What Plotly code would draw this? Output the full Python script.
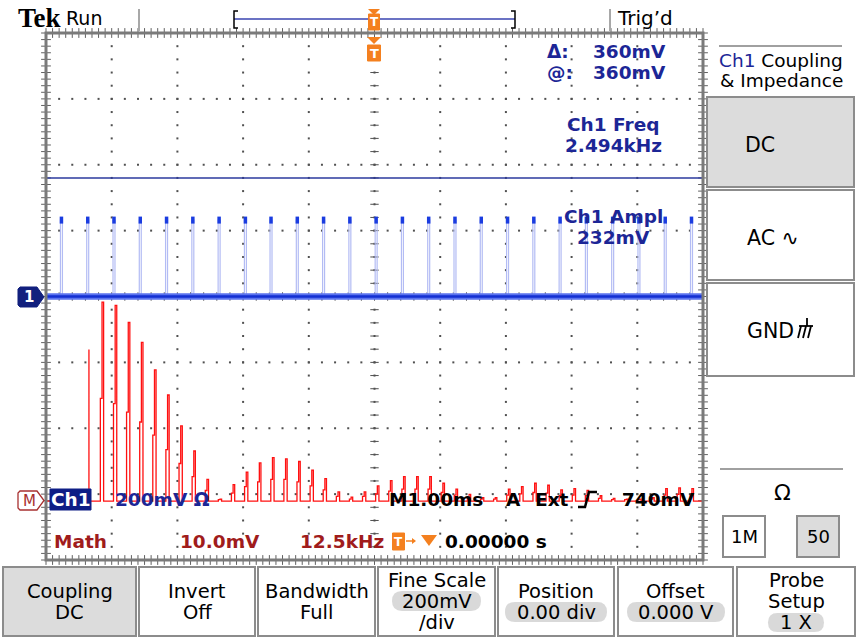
import plotly.graph_objects as go

# ---------------- data ----------------
# Ch1: pulse train, 200 mV/div, 1.00 ms/div, trigger at centre
pulse_times_ms = [-4.78, -4.38, -3.98, -3.58, -3.18, -2.78, -2.38, -1.98, -1.59, -1.19,
                  -0.79, -0.39, 0.01, 0.41, 0.81, 1.21, 1.61, 2.01, 2.41, 2.81,
                  3.21, 3.61, 4.01, 4.41, 4.81]
pulse_ampl_mv = 232
pulse_width_ms = 0.03
cursor_mv = 360

# Math (FFT): 10.0 mV/div, 12.5 kHz/div
fft_freq_khz = [8.17, 10.66, 13.16, 15.65, 18.15, 20.64, 23.13, 25.63, 28.12, 30.62,
                33.11, 35.60, 38.10, 40.59, 43.09, 45.58, 48.07, 50.57, 53.06, 55.56,
                58.05, 60.54, 63.04, 65.53, 68.03, 70.52, 73.01, 75.51, 78.00, 80.50,
                82.99, 85.48, 87.98, 90.47, 92.97, 95.46, 97.95, 100.45, 102.94, 105.44,
                107.93, 110.42, 112.92, 115.41, 117.91, 120.40, 122.89]
fft_peak_mv = [23.0, 30.2, 29.7, 27.1, 24.1, 19.9, 16.1, 11.4, 7.6, 3.3,
               0.3, 2.5, 4.4, 5.8, 6.6, 6.4, 6.0, 4.7, 3.4, 1.4,
               0.6, 1.4, 2.3, 3.1, 3.7, 3.7, 3.7, 2.7, 1.8, 1.0,
               0.5, 0.5, 1.8, 2.2, 2.7, 2.4, 1.7, 1.9, 1.6, 0.8,
               0.4, 0.3, 0.3, 0.5, 1.9, 2.0, 1.9]
fft_step_mv = [23.0, 15.6, 14.8, 13.5, 12.0, 10.0, 7.8, 5.7, 3.7, 1.6,
               0.2, 1.2, 2.2, 2.9, 3.3, 3.3, 2.9, 2.3, 1.7, 0.7,
               0.3, 0.7, 1.1, 1.5, 1.8, 1.8, 1.8, 1.3, 0.9, 0.5,
               0.3, 0.3, 0.9, 1.1, 1.3, 1.2, 0.8, 0.9, 0.8, 0.4,
               0.2, 0.2, 0.2, 0.3, 0.9, 1.0, 0.9]

t_range = [-5, 5]          # ms
v_range = [-800, 800]      # mV (Ch1)
f_range = [0, 125]         # kHz
m_range = [-8.95, 71.05]   # mV (Math)

# ---------------- page geometry ----------------
W, H = 865, 637
GL, GR, GT, GB = 46, 703, 33, 560


def px(x):
    return (x - GL) / (GR - GL)


def py(y):
    return (GB - y) / (GB - GT)


NAVY = '#1c2696'
DARKRED = '#a01c1c'
ORANGE = '#f4801f'
GRAY = '#8c8c8c'
FONT = 'DejaVu Sans, Verdana, sans-serif'

shapes = []
annotations = []


def text(x, y, s, size=18.5, color='black', anchor='left', bold=False, family=FONT):
    annotations.append(dict(x=px(x), y=py(y), xref='paper', yref='paper', text=s,
                            showarrow=False, xanchor=anchor, yanchor='middle',
                            font=dict(size=size, color=color, family=family,
                                      weight='bold' if bold else 'normal')))


def rect(x0, y0, x1, y1, fill='rgba(0,0,0,0)', line=GRAY, lw=2):
    shapes.append(dict(type='rect', xref='paper', yref='paper', x0=px(x0), x1=px(x1),
                       y0=py(y1), y1=py(y0), fillcolor=fill,
                       line=dict(color=line, width=lw), layer='above'))


def seg(x0, y0, x1, y1, color, lw):
    shapes.append(dict(type='line', xref='paper', yref='paper', x0=px(x0), x1=px(x1),
                       y0=py(y0), y1=py(y1), line=dict(color=color, width=lw), layer='above'))


def poly(pts, fill='rgba(0,0,0,0)', line='rgba(0,0,0,0)', lw=0, close=True):
    d = 'M ' + ' L '.join(f'{px(a):.5f},{py(b):.5f}' for a, b in pts) + (' Z' if close else '')
    shapes.append(dict(type='path', xref='paper', yref='paper', path=d, fillcolor=fill,
                       line=dict(color=line, width=lw), layer='above'))


def pill(x0, y0, x1, y1, fill='#d9d9d9'):
    r = (y1 - y0) / 2
    P = lambda a, b: f'{px(a):.5f},{py(b):.5f}'
    d = (f'M {P(x0 + r, y0)} L {P(x1 - r, y0)} Q {P(x1, y0)} {P(x1, y0 + r)} '
         f'Q {P(x1, y1)} {P(x1 - r, y1)} L {P(x0 + r, y1)} Q {P(x0, y1)} {P(x0, y1 - r)} '
         f'Q {P(x0, y0)} {P(x0 + r, y0)} Z')
    shapes.append(dict(type='path', xref='paper', yref='paper', path=d, fillcolor=fill,
                       line=dict(color=fill, width=0), layer='above'))


fig = go.Figure()

# ---------------- graticule ----------------
div_t = (t_range[1] - t_range[0]) / 10
div_v = (v_range[1] - v_range[0]) / 8
gx, gy = [], []
for j in range(1, 10):
    for k in range(41):
        gx.append(t_range[0] + j * div_t)
        gy.append(v_range[0] + k * div_v / 5)
for j in range(1, 8):
    for k in range(51):
        gx.append(t_range[0] + k * div_t / 5)
        gy.append(v_range[0] + j * div_v)
fig.add_trace(go.Scatter(x=gx, y=gy, mode='markers', hoverinfo='skip',
                         marker=dict(symbol='square', size=2, color='#505050')))
# centre cross ticks
cx = [0] * 41
cy = [v_range[0] + k * div_v / 5 for k in range(41)]
fig.add_trace(go.Scatter(x=cx, y=cy, mode='markers', hoverinfo='skip',
                         marker=dict(symbol='line-ew', size=6, line=dict(width=1, color='#505050'))))
hx = [t_range[0] + k * div_t / 5 for k in range(51)]
fig.add_trace(go.Scatter(x=hx, y=[0] * 51, mode='markers', hoverinfo='skip',
                         marker=dict(symbol='line-ns', size=6, line=dict(width=1, color='#505050'))))
# edge rulers
ex = [t_range[0] + k * div_t / 10 for k in range(101)]
ey = [v_range[0] + k * div_v / 10 for k in range(81)]
fig.add_trace(go.Scatter(x=ex + ex, y=[v_range[0]] * 101 + [v_range[1]] * 101, mode='markers',
                         hoverinfo='skip', cliponaxis=False,
                         marker=dict(symbol='line-ns', size=7, line=dict(width=1, color='#606060'))))
fig.add_trace(go.Scatter(x=[t_range[0]] * 81 + [t_range[1]] * 81, y=ey + ey, mode='markers',
                         hoverinfo='skip', cliponaxis=False,
                         marker=dict(symbol='line-ew', size=7, line=dict(width=1, color='#606060'))))

# ---------------- Math (FFT) trace ----------------
rx, ry = [f_range[0]], [0]
for f, pk, st in zip(fft_freq_khz, fft_peak_mv, fft_step_mv):
    if st >= pk:
        rx += [f, f, f]
        ry += [0, pk, 0]
    else:
        rx += [f - 0.32, f - 0.32, f, f, f + 0.3, f + 0.3]
        ry += [0, st, st, pk, pk, 0]
rx.append(f_range[1])
ry.append(0)
fig.add_trace(go.Scatter(x=rx, y=ry, xaxis='x2', yaxis='y2', mode='lines', hoverinfo='skip',
                         line=dict(color='#ff1010', width=1.3)))

# ---------------- Ch1 trace ----------------
bx, by = [], []
for t in pulse_times_ms:
    bx += [t, t, t + pulse_width_ms, t + pulse_width_ms, None]
    by += [0, pulse_ampl_mv, pulse_ampl_mv, 0, None]
fig.add_trace(go.Scatter(x=bx, y=by, mode='lines', hoverinfo='skip',
                         line=dict(color='#b3bcf4', width=1.2)))
fig.add_trace(go.Scatter(x=t_range, y=[0, 0], mode='lines', hoverinfo='skip',
                         line=dict(color='#5a72ee', width=6.5)))
fig.add_trace(go.Scatter(x=t_range, y=[0, 0], mode='lines', hoverinfo='skip',
                         line=dict(color='#1430d2', width=2.5)))
fig.add_trace(go.Scatter(x=[t + pulse_width_ms / 2 for t in pulse_times_ms],
                         y=[pulse_ampl_mv] * len(pulse_times_ms), mode='markers', hoverinfo='skip',
                         marker=dict(symbol='line-ns', size=5, line=dict(width=3.5, color='#1a3ce0'))))
# cursor
fig.add_trace(go.Scatter(x=t_range, y=[cursor_mv, cursor_mv], mode='lines', hoverinfo='skip',
                         line=dict(color='#2b3a9e', width=1.5)))

# graticule border
rect(GL, GT, GR, GB, line='#7a7a7a', lw=3)

# ---------------- top bar ----------------
text(16, 18, 'Tek', size=27, bold=True, family='Liberation Serif, Times New Roman, serif')
text(64, 18, 'Run', size=19)
seg(139, 9, 139, 31, '#a8a8a8', 2)
seg(610, 9, 610, 31, '#a8a8a8', 2)
text(615, 18, 'Trig’d', size=20)
seg(234, 19, 515, 19, '#3a44b0', 1.5)
poly([(238, 11), (234, 11), (234, 28), (238, 28)], line='black', lw=1.5, close=False)
poly([(511, 11), (515, 11), (515, 28), (511, 28)], line='black', lw=1.5, close=False)
poly([(368, 9), (380, 9), (374, 15)], fill=ORANGE)
rect(368.5, 14, 379.5, 30, fill=ORANGE, line=ORANGE, lw=1)
text(374, 22.5, 'T', size=12, color='white', anchor='center', bold=True)
# trigger position marker in graticule
poly([(367, 37), (381, 37), (374, 44)], fill=ORANGE)
rect(367.5, 45, 380.5, 61, fill=ORANGE, line=ORANGE, lw=1)
text(374, 53, 'T', size=13, color='white', anchor='center', bold=True)

# ---------------- measurements ----------------
text(545, 52, 'Δ:', color=NAVY, bold=True)
text(668, 52, '360mV', color=NAVY, bold=True, anchor='right')
text(545, 72.5, '@:', color=NAVY, bold=True)
text(668, 72.5, '360mV', color=NAVY, bold=True, anchor='right')
text(613, 124, 'Ch1 Freq', color=NAVY, bold=True, anchor='center')
text(613, 145, '2.494kHz', color=NAVY, bold=True, anchor='center')
text(613, 216, 'Ch1 Ampl', color=NAVY, bold=True, anchor='center')
text(613, 237, '232mV', color=NAVY, bold=True, anchor='center')

# ---------------- channel markers ----------------
poly([(20, 287), (37, 287), (44, 297), (37, 307), (20, 307), (18, 305), (18, 289)],
     fill='#12207e', line='#12207e', lw=1)
text(29, 297, '1', size=15, color='white', anchor='center', bold=True)
poly([(20, 491), (37, 491), (44, 500.5), (37, 510), (20, 510), (18, 508), (18, 493)],
     fill='white', line='#a83030', lw=1.3)
text(29, 500.5, 'M', size=15, color='#a83030', anchor='center')

# ---------------- status lines ----------------
rect(50, 489, 91, 510, fill='#0e1e86', line='#0e1e86', lw=1)
text(70.5, 499.5, 'Ch1', color='white', anchor='center', bold=True)
text(113, 499.5, '200mV Ω', color=NAVY, bold=True)
text(387, 499.5, 'M1.00ms', bold=True)
text(504, 499.5, 'A', bold=True)
text(533, 499.5, 'Ext', bold=True)
poly([(578, 507), (585, 507), (589, 492), (597, 492)], line='black', lw=2.5, close=False)
text(697, 499.5, '740mV', bold=True, anchor='right')

text(52, 541, 'Math', color=DARKRED, bold=True)
text(178, 541, '10.0mV', color=DARKRED, bold=True)
text(298, 541, '12.5kHz', color=DARKRED, bold=True)
rect(392.5, 533, 404.5, 550, fill=ORANGE, line=ORANGE, lw=1)
text(398.5, 541.5, 'T', size=12, color='white', anchor='center', bold=True)
seg(406, 541, 415, 541, ORANGE, 1.5)
poly([(412, 538), (416, 541), (412, 544)], fill=ORANGE)
poly([(421, 535), (437, 535), (429, 546)], fill=ORANGE)
text(443, 541, '0.00000 s', bold=True)

# ---------------- right side menu ----------------
seg(719, 46, 842, 46, '#a0a0a0', 2)
text(781.5, 60, '<span style="color:#1c2696">Ch1</span> Coupling', anchor='center', size=18.5)
text(781.5, 80.5, '&amp; Impedance', anchor='center', size=18.5)
rect(707, 97, 854, 187, fill='#dcdcdc')
rect(707, 190, 854, 280, fill='white')
rect(707, 283, 854, 376, fill='white')
text(760, 145, 'DC', size=20.5, anchor='center')
text(745, 238, 'AC ∿', size=20.5)
text(745, 331, 'GND', size=20.5)
# ground glyph
seg(799, 326, 813, 326, 'black', 1.8)
seg(807, 318, 807, 326, 'black', 1.8)
seg(801, 326, 798, 338, 'black', 1.8)
seg(806, 326, 803, 338, 'black', 1.8)
seg(811, 326, 808, 338, 'black', 1.8)

seg(720, 469, 843, 469, '#a0a0a0', 2)
text(782, 492, 'Ω', size=22, anchor='center')
rect(723, 516, 765, 557, fill='white')
rect(797, 516, 839, 557, fill='#dcdcdc')
text(744, 536.5, '1M', size=18, anchor='center')
text(818, 536.5, '50', size=18, anchor='center')

# ---------------- bottom menu ----------------
MF = 19.5
btns = [(3, 136, '#dcdcdc'), (139, 255, 'white'), (258, 375, 'white'), (378, 495, 'white'),
        (498, 614, 'white'), (618, 733, 'white'), (737, 855, 'white')]
for a, b, c in btns:
    rect(a, 567, b, 636, fill=c)
pill(392, 591, 481, 611)
pill(505, 602, 607, 622)
pill(627, 602, 725, 622)
pill(768, 613, 824, 632)


def mtext(cx, y, s):
    text(cx, y, s, size=MF, anchor='center')


mtext(69.5, 591, 'Coupling'); mtext(69.5, 612, 'DC')
mtext(197, 591, 'Invert'); mtext(197, 612, 'Off')
mtext(316.5, 591, 'Bandwidth'); mtext(316.5, 612, 'Full')
mtext(436.5, 580, 'Fine Scale'); mtext(436.5, 601, '200mV'); mtext(436.5, 622, '/div')
mtext(556, 591, 'Position'); mtext(556, 612, '0.00 div')
mtext(675.5, 591, 'Offset'); mtext(675.5, 612, '0.000 V')
mtext(796, 580, 'Probe'); mtext(796, 601, 'Setup'); mtext(796, 622, '1 X')

# ---------------- layout ----------------
hidden = dict(visible=False, showgrid=False, zeroline=False, fixedrange=True)
fig.update_layout(
    width=W, height=H,
    margin=dict(l=GL, r=W - GR, t=GT, b=H - GB, pad=0),
    paper_bgcolor='white', plot_bgcolor='white',
    showlegend=False,
    xaxis=dict(range=t_range, **hidden),
    yaxis=dict(range=v_range, **hidden),
    xaxis2=dict(range=f_range, overlaying='x', **hidden),
    yaxis2=dict(range=m_range, overlaying='y', **hidden),
    shapes=shapes,
    annotations=annotations,
)

fig.write_html('out.html', config={'displayModeBar': False},
               post_script="document.body.style.margin='0px';document.body.style.overflow='hidden';")
